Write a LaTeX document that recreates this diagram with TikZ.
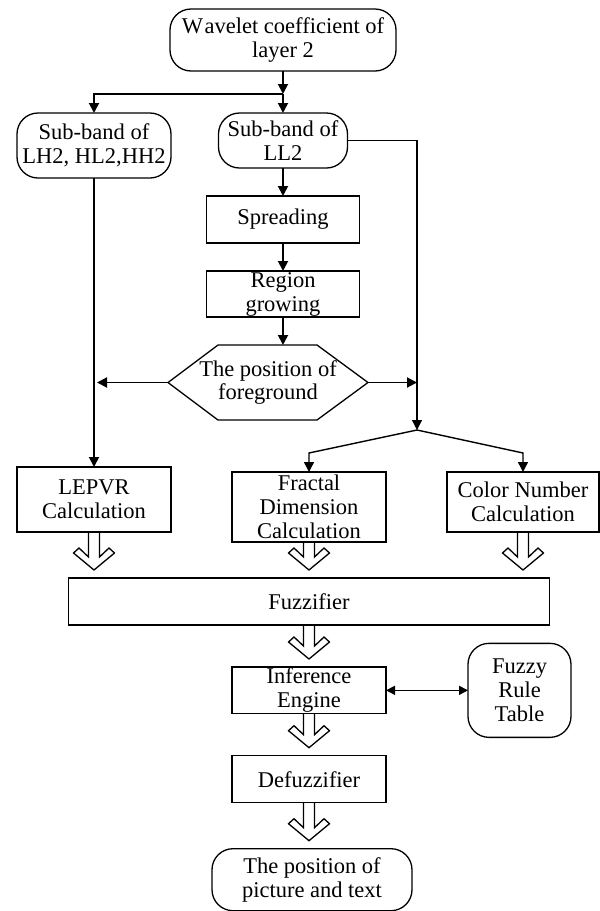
\documentclass[tikz,border=0pt]{standalone}
\usepackage{fontspec}
\setmainfont{Liberation Serif}
\usepackage{tikz}
\usetikzlibrary{arrows.meta, positioning, calc}

%% hollow block arrow from the bottom of one node towards the top of another
\newcommand{\hollowarrow}[2]{%
  \path (#1.south) coordinate (hs)
        ($(#1.south |- #2.north)+(0,8pt)$) coordinate (ht);
  \draw[hollow] ($(hs)+(-5.5pt,0)$) -- ($(ht)+(-5.5pt,13pt)$)
    -- ($(ht)+(-15pt,22pt)$) -- ($(ht)+(-20.5pt,17pt)$) -- (ht)
    -- ($(ht)+(20.5pt,17pt)$) -- ($(ht)+(15pt,22pt)$)
    -- ($(ht)+(5.5pt,13pt)$) -- ($(hs)+(5.5pt,0)$);}

\begin{document}
\begin{tikzpicture}[
  node distance=28pt,
  %% box styles
  base/.style={
    inner sep=1pt, outer sep=0pt, align=center, line width=1.3pt,
    font=\fontsize{22.5}{24}\selectfont},
  rbox/.style={base, draw, rectangle, rounded corners=21pt},
  sbox/.style={base, draw, rectangle, minimum width=154pt, minimum height=46pt},
  hexa/.style={base, minimum width=200pt, minimum height=75pt},
  arr/.style={-{Triangle[length=10pt,width=10pt]}, line width=1.9pt},
  dbl/.style={{Triangle[length=9pt,width=9pt]}-{Triangle[length=9pt,width=9pt]}, line width=1.5pt},
  hollow/.style={line width=1.3pt, line join=miter}
]
\useasboundingbox (0,0) rectangle (600pt,-911pt);

%% ── Row 0: wavelet input ─────────────────────────────────────────────────
\node[rbox, minimum width=226pt, minimum height=62pt] (wave) at (283pt,-40pt)
  {W\kern1.5pt avelet coefficient of\\layer 2};

%% ── Row 1: sub-bands ─────────────────────────────────────────────────────
\node[rbox, minimum width=154pt, minimum height=65pt, below=42pt of wave, xshift=-189pt] (sbh)
  {Sub-band of\\LH2, HL2,HH2};
\node[rbox, minimum width=129pt, minimum height=55pt, below=42pt of wave] (sbl)
  {Sub-band of\\LL2};

%% ── LL2 column ───────────────────────────────────────────────────────────
\node[sbox, minimum width=153pt, minimum height=47pt, below=of sbl] (spread) {Spreading};
\node[sbox, minimum width=153pt, below=of spread] (grow) {Region\\growing};
\node[hexa, below=of grow, xshift=-15pt] (fgpos) {The position of\\foreground};
\draw[base, fill=none] (fgpos.west) -- ($(fgpos.north west)+(50pt,0)$)
  -- ($(fgpos.north east)+(-51pt,0)$) -- (fgpos.east)
  -- ($(fgpos.south east)+(-51pt,0)$) -- ($(fgpos.south west)+(50pt,0)$) -- cycle;

%% ── Row 2: feature calculations ──────────────────────────────────────────
\node[sbox, minimum height=65pt, below=289pt of sbh] (lepvr) {LEPVR\\Calculation};
\node[sbox, minimum height=70pt, below=52pt of fgpos, xshift=41pt] (fractal)
  {Fractal\\Dimension\\Calculation};
\node[sbox, minimum width=152pt, minimum height=60pt, below=52pt of fgpos, xshift=255pt] (colnum)
  {Color Number\\Calculation};

%% ── Row 3: fuzzy system ──────────────────────────────────────────────────
\node[sbox, minimum width=481pt, minimum height=47pt, below=36pt of fractal] (fuzz) {Fuzzifier};
\node[sbox, below=42pt of fuzz] (infer) {Inference\\Engine};
\node[rbox, minimum width=103pt, minimum height=94pt, right=82pt of infer] (rules)
  {Fuzzy\\Rule\\Table};
\node[sbox, minimum height=47pt, below=42pt of infer] (defuzz) {Defuzzifier};
\node[rbox, minimum width=200pt, minimum height=62pt, below=46pt of defuzz, xshift=3pt] (outpos)
  {The position of\\picture and text};

%% ──────────────────────── Arrows ─────────────────────────────────────────

%% input → sub-bands (T-junction)
\draw[arr] (wave.south) -- ++(0,-23pt) coordinate (jct);
\draw[arr] (jct) -- (sbl.north);
\draw[arr] (jct) -| (sbh.north);

%% LL2 pipeline
\draw[arr] (sbl) -- (spread);
\draw[arr] (spread) -- (grow);
\draw[arr] (grow.south) -- (grow.south |- fgpos.north);

%% LL2 bypass and fork to the two feature boxes
\coordinate[below right=47.5pt and 49pt of fgpos.east] (fork);
\draw[arr, line width=1.4pt] (sbl.east) -| (fork);
\draw[arr, line width=1.4pt] (fork) -- ($(fractal.north)+(0,19pt)$) -- (fractal.north);
\draw[arr, line width=1.4pt] (fork) -- ($(colnum.north)+(0,19pt)$) -- (colnum.north);

%% foreground position → both sides
\draw[arr] (fgpos.east) -- (fgpos.east -| fork);
\draw[arr] (fgpos.west) -- ($(fgpos.west -| sbh.south)+(3pt,0)$);

%% high sub-bands → LEPVR
\draw[arr] (sbh.south) -- (lepvr.north);

%% hollow arrows into and through the fuzzy system
\hollowarrow{lepvr}{fuzz}
\hollowarrow{fractal}{fuzz}
\hollowarrow{colnum}{fuzz}
\hollowarrow{fuzz}{infer}
\hollowarrow{infer}{defuzz}
\hollowarrow{defuzz}{outpos}

%% rule table link
\draw[dbl] (infer.east) -- (rules.west);

\end{tikzpicture}
\end{document}
